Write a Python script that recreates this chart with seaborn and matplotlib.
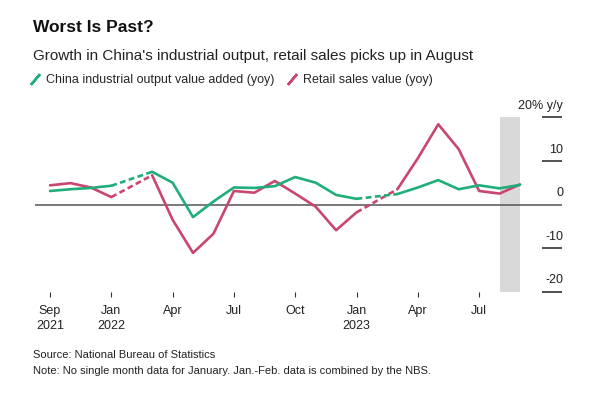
import numpy as np
import pandas as pd
import matplotlib
matplotlib.use('Agg')
import matplotlib.pyplot as plt
import matplotlib.transforms as mtransforms
from matplotlib.lines import Line2D
import seaborn as sns

# Monthly data, Sep 2021 .. Aug 2023 (January has no single-month figure)
months = ['2021-09', '2021-10', '2021-11', '2021-12', '2022-01', '2022-02',
          '2022-03', '2022-04', '2022-05', '2022-06', '2022-07', '2022-08',
          '2022-09', '2022-10', '2022-11', '2022-12', '2023-01', '2023-02',
          '2023-03', '2023-04', '2023-05', '2023-06', '2023-07', '2023-08']
industrial = [3.1, 3.5, 3.8, 4.3, np.nan, 7.5, 5.0, -2.9, 0.7, 3.9, 3.8, 4.2,
              6.3, 5.0, 2.2, 1.3, np.nan, 2.4, 3.9, 5.6, 3.5, 4.4, 3.7, 4.5]
retail = [4.4, 4.9, 3.9, 1.7, np.nan, 6.7, -3.5, -11.1, -6.7, 3.1, 2.7, 5.4,
          2.5, -0.5, -5.9, -1.8, np.nan, 3.5, 10.6, 18.4, 12.7, 3.1, 2.5, 4.6]

tick_pos = [0, 3, 6, 9, 12, 15, 18, 21]
tick_labels = ['Sep\n2021', 'Jan\n2022', 'Apr', 'Jul', 'Oct', 'Jan\n2023', 'Apr', 'Jul']
y_levels = [20, 10, 0, -10, -20]
y_labels = ['20% y/y', '10', '0', '-10', '-20']

GREEN = '#1fae78'
RED = '#c9466d'

df = pd.DataFrame({'month': months, 'industrial': industrial, 'retail': retail})
df['idx'] = np.arange(len(df))

sns.set_style('white')
plt.rcParams['font.family'] = ['Liberation Sans', 'DejaVu Sans']

fig = plt.figure(figsize=(6, 4), dpi=100)
ax = fig.add_axes([35 / 600, 1 - 291.7 / 400, (562 - 35) / 600, (291.7 - 117.3) / 400])

# shaded band for the latest month
ax.axvspan(22, 23, color='#d9d9d9', lw=0, zorder=0)
ax.axhline(0, color='#555555', lw=1.1, zorder=1)

for col, color, z in [('retail', RED, 3), ('industrial', GREEN, 4)]:
    valid = df[df[col].notna()].copy()
    # solid segments: break at missing months
    valid['seg'] = (valid['idx'].diff() > 1).cumsum()
    sns.lineplot(data=valid, x='idx', y=col, units='seg', estimator=None,
                 color=color, lw=1.9, ax=ax, zorder=z)
    # dashed bridges over the missing months
    for seg_id in valid['seg'].unique()[1:]:
        part = valid[valid['seg'] == seg_id].iloc[0]
        prev = valid[valid['seg'] == seg_id - 1].iloc[-1]
        bridge = pd.DataFrame({'idx': [prev['idx'], part['idx']],
                               col: [prev[col], part[col]]})
        sns.lineplot(data=bridge, x='idx', y=col, color=color, lw=1.9,
                     linestyle=(0, (2.2, 1.3)), ax=ax, zorder=z)

ax.set_xlim(-15 / 20.43, 23 + 42 / 20.43)
ax.set_ylim(-20, 20)
for s in ax.spines.values():
    s.set_visible(False)

ax.set_xticks(tick_pos)
ax.set_xticklabels(tick_labels, fontsize=9, color='#222222', linespacing=1.35)
ax.tick_params(axis='x', bottom=True, direction='out', length=3.5, width=0.8,
               color='#333333', pad=6)

ax.yaxis.tick_right()
ax.set_yticks([-20, -10, 10, 20])
ax.set_yticklabels([])
ax.tick_params(axis='y', direction='in', length=14.4, width=1.1, color='#222222', right=True, left=False)
ax.set_xlabel('')
ax.set_ylabel('')

trans = mtransforms.blended_transform_factory(ax.transAxes, ax.transData)
for v, lab in zip(y_levels, y_labels):
    ax.text(1.002, v + 1.2, lab, transform=trans, ha='right', va='bottom',
            fontsize=9, color='#222222')

fig.text(33 / 600, 1 - 28 / 400, 'Worst Is Past?', fontsize=12.5, fontweight='bold',
         color='#111111', va='center', ha='left')
fig.text(33 / 600, 1 - 56 / 400,
         "Growth in China's industrial output, retail sales picks up in August",
         fontsize=11, color='#222222', va='center', ha='left')

handles = [Line2D([0], [0], color=GREEN, lw=0, marker=(2, 2, -40), markersize=10,
                  markeredgewidth=1.8),
           Line2D([0], [0], color=RED, lw=0, marker=(2, 2, -40), markersize=10,
                  markeredgewidth=1.8)]
fig.legend(handles, ['China industrial output value added (yoy)', 'Retail sales value (yoy)'],
           loc='center left', bbox_to_anchor=(30 / 600, 1 - 80 / 400), ncol=2,
           frameon=False, fontsize=9, handlelength=0.8, handletextpad=0.5,
           columnspacing=1.0, borderpad=0, borderaxespad=0)

fig.text(33 / 600, 1 - 355 / 400, 'Source: National Bureau of Statistics',
         fontsize=8, color='#222222', va='center', ha='left')
fig.text(33 / 600, 1 - 371 / 400,
         'Note: No single month data for January. Jan.-Feb. data is combined by the NBS.',
         fontsize=8, color='#222222', va='center', ha='left')

fig.savefig('out.png', dpi=100, facecolor='white')
